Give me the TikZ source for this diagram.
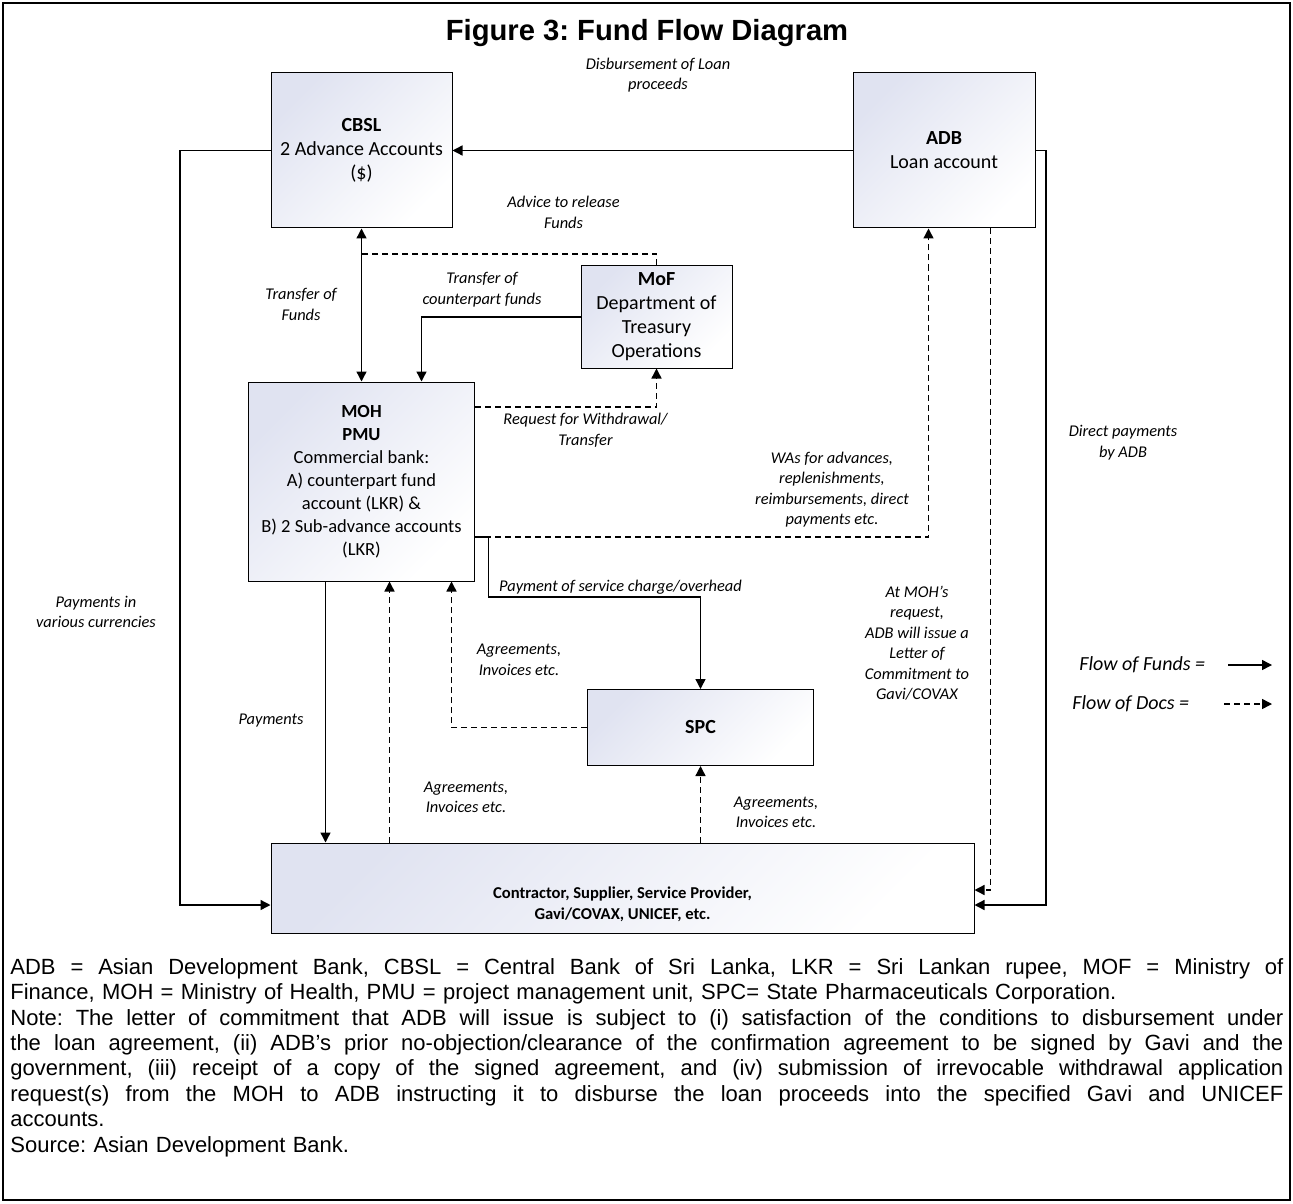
\documentclass[tikz,border=0pt]{standalone}
\usepackage{fontspec}
\setmainfont{Carlito}
\newfontfamily\arialfont{Liberation Sans}
\usetikzlibrary{arrows.meta}
\definecolor{boxlav}{RGB}{224,227,241}
\newcommand{\fullline}[1]{\leavevmode\hbox to 636.5pt{\spaceskip=\fontdimen2\font plus 1fil\relax#1}}
\tikzset{
  acct/.style={draw, line width=0.5pt, inner sep=0pt, align=center, top color=boxlav, bottom color=white, shading angle=45, font=\fontsize{10}{12}\selectfont},
  lbl/.style={align=center, inner sep=0pt, font=\fontsize{8.2}{10.25}\selectfont\itshape},
  fund/.style={line width=0.7pt, -{Triangle[length=5pt,width=5pt]}},
  doc/.style={fund, dash pattern=on 3pt off 2pt},
}
\begin{document}
\frenchspacing
\begin{tikzpicture}[x=0.5pt, y=-0.5pt]
  \useasboundingbox (0,0) rectangle (1293,1203);
  \draw[line width=0.8pt] (3,3) rectangle (1290,1200);
  \node[font=\arialfont\bfseries\fontsize{14.6}{17}\selectfont] (title) at (647,33) {Figure 3: Fund Flow Diagram};

  % accounts
  \node[acct, minimum width=90.5pt, minimum height=77.5pt] (cbsl) at (361.5,150.5) {\textbf{CBSL}\\2 Advance Accounts\\(\$)};
  \node[acct, minimum width=91pt, minimum height=77.5pt] (adb) at (944,150.5) {\textbf{ADB}\\Loan account};
  \node[acct, minimum width=75.5pt, minimum height=51pt] (mof) at (656.5,317) {\textbf{MoF}\\Department of\\Treasury\\Operations};
  \node[acct, minimum width=113pt, minimum height=99.5pt, font=\fontsize{9.25}{11.5}\selectfont] (moh) at (361.5,481.5)
    {\textbf{MOH}\\\textbf{PMU}\\Commercial bank:\\A) counterpart fund\\account (LKR) \&\\B) 2 Sub-advance accounts\\(LKR)};
  \node[acct, minimum width=113pt, minimum height=38pt] (spc) at (700.5,727.5) {\textbf{SPC}};
  \node[acct, minimum width=351.5pt, minimum height=45pt] (pay) at (622.5,888) {};
  \node[font=\bfseries\fontsize{8.3}{10.5}\selectfont, align=center] (paytxt) at (622.5,904) {Contractor, Supplier, Service Provider,\\Gavi/COVAX, UNICEF, etc.};

  % bend points
  \coordinate (lft) at (180,905);
  \coordinate (rgt) at (1046,905);
  \coordinate (ltr) at (990.5,890);
  \coordinate (adv) at (656.5,254);
  \coordinate (cpf) at (421.5,317);
  \coordinate (req) at (656.5,407);
  \coordinate (was) at (928.5,537);
  \coordinate (svc) at (488.5,597);
  \coordinate (pmt) at (325.5,0);
  \coordinate (agr) at (389.5,0);
  \coordinate (sdoc) at (451.5,0);

  % flows
  \draw[fund] (adb.west) -- (cbsl.east);
  \draw[fund] (cbsl.west) -| (lft) -- (lft -| pay.west);
  \draw[fund] (adb.east) -| (rgt) -- (rgt -| pay.east);
  \draw[doc] (adb.south -| ltr) -- (ltr) -- (ltr -| pay.east);
  \draw[fund, {Triangle[length=5pt,width=5pt]}-{Triangle[length=5pt,width=5pt]}] (cbsl.south) -- (moh.north);
  \draw[doc, -] (mof.north) -- (adv) -- (adv -| cbsl.south);
  \draw[fund] (mof.west) -| (moh.north -| cpf);
  \draw[doc] (moh.east |- req) -| (mof.south);
  \draw[doc] (moh.east |- was) -| (adb.south -| was);
  \draw[fund] (moh.east |- was) -| (svc) -| (spc.north);
  \draw[fund] (moh.south -| pmt) -- (pay.north -| pmt);
  \draw[doc] (pay.north -| agr) -- (moh.south -| agr);
  \draw[doc] (spc.west) -| (moh.south -| sdoc);
  \draw[doc] (pay.north -| spc.south) -- (spc.south);

  % labels
  \node[lbl] (disb) at (658,75) {Disbursement of Loan\\proceeds};
  \node[lbl] (advice) at (563.5,212.5) {Advice to release\\Funds};
  \node[lbl] (tcf) at (482,289.5) {Transfer of\\counterpart funds};
  \node[lbl] (tof) at (301,304.5) {Transfer of\\Funds};
  \node[lbl] (reqlbl) at (585.5,430.5) {Request for Withdrawal/\\Transfer};
  \node[lbl] (walbl) at (832,489.5) {WAs for advances,\\replenishments,\\reimbursements, direct\\payments etc.};
  \node[lbl] (direct) at (1123,442.5) {Direct payments\\by ADB};
  \node[lbl] (svclbl) at (620.5,587) {Payment of service charge/overhead};
  \node[lbl] (curr) at (96,612) {Payments in\\various currencies};
  \node[lbl] (agr1) at (519,660) {Agreements,\\Invoices etc.};
  \node[lbl] (pmtlbl) at (271,721) {Payments};
  \node[lbl] (loc) at (917,643) {At MOH’s\\request,\\ADB will issue a\\Letter of\\Commitment to\\Gavi/COVAX};
  \node[lbl] (agr2) at (466,797.5) {Agreements,\\Invoices etc.};
  \node[lbl] (agr3) at (776,812.5) {Agreements,\\Invoices etc.};

  % legend
  \node[lbl, font=\fontsize{10}{12}\selectfont\itshape, anchor=west] (lfund) at (1079,665) {Flow of Funds =};
  \node[lbl, font=\fontsize{10}{12}\selectfont\itshape, anchor=west] (ldocs) at (1072,704) {Flow of Docs =};
  \coordinate (lfa) at (1228,665);
  \coordinate (lfb) at (1272,665);
  \coordinate (lda) at (1224,704);
  \coordinate (ldb) at (1272,704);
  \draw[fund] (lfa) -- (lfb);
  \draw[doc] (lda) -- (ldb);

  % notes
  \node[anchor=north west, inner sep=0pt, text width=636.5pt, align=left, font=\arialfont\fontsize{11}{12.7}\selectfont] (note) at (10,958)
    {\fullline{ADB = Asian Development Bank, CBSL = Central Bank of Sri Lanka, LKR = Sri Lankan rupee, MOF = Ministry of}\\
     Finance, MOH = Ministry of Health, PMU = project management unit, SPC= State Pharmaceuticals Corporation.\\
     \fullline{Note: The letter of commitment that ADB will issue is subject to (i) satisfaction of the conditions to disbursement under}\\
     \fullline{the loan agreement, (ii) ADB’s prior no-objection/clearance of the confirmation agreement to be signed by Gavi and the}\\
     \fullline{government, (iii) receipt of a copy of the signed agreement, and (iv) submission of irrevocable withdrawal application}\\
     \fullline{request(s) from the MOH to ADB instructing it to disburse the loan proceeds into the specified Gavi and UNICEF}\\
     accounts.\\
     Source: Asian Development Bank.};
\end{tikzpicture}
\end{document}
